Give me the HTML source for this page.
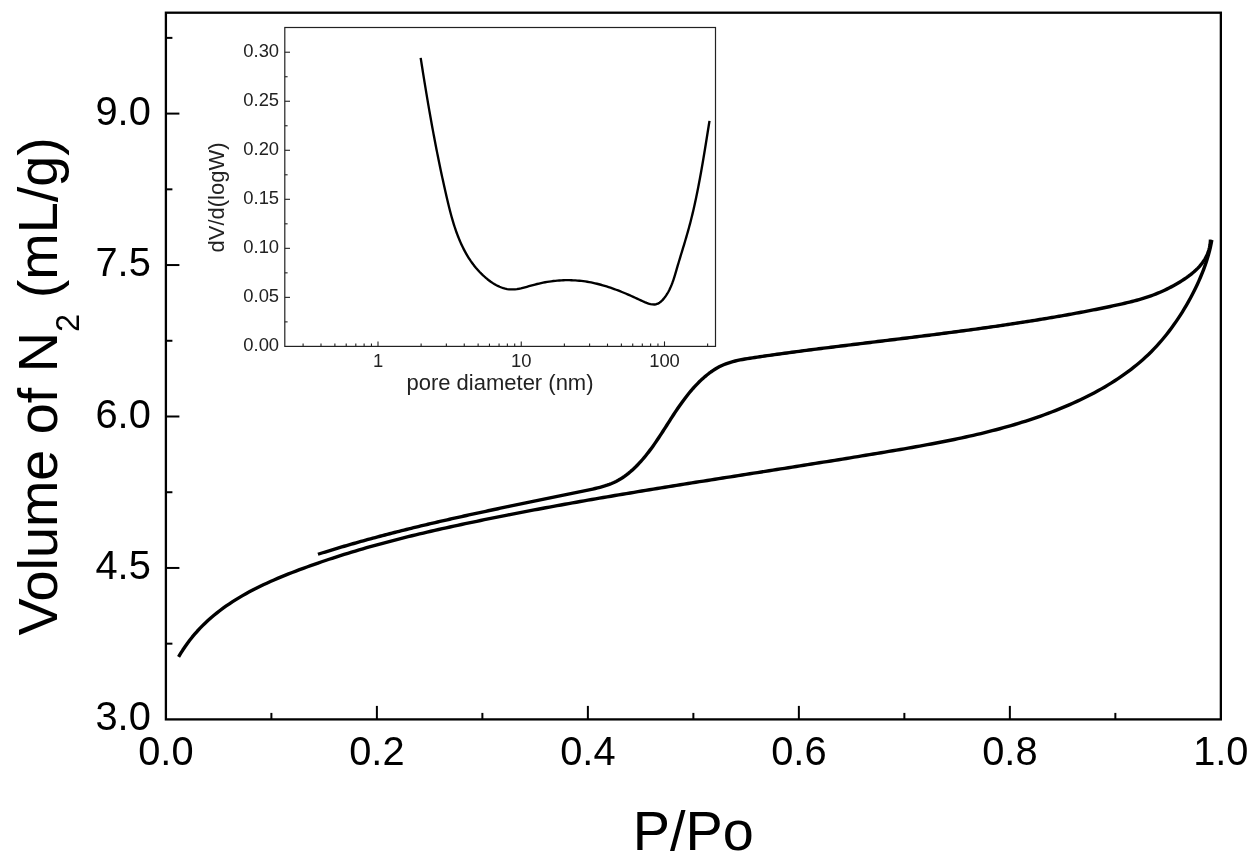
<!DOCTYPE html>
<html lang="en">
<head>
<meta charset="utf-8">
<title>N2 adsorption isotherm</title>
<style>
html,body{margin:0;padding:0;background:#fff;}
body{width:1260px;height:866px;overflow:hidden;}
svg{display:block;}
</style>
</head>
<body>
<svg width="1260" height="866" viewBox="0 0 1260 866">
<rect x="0" y="0" width="1260" height="866" fill="#fff"/>
<g stroke="#000" fill="none" stroke-linecap="butt">
<rect x="165.90" y="12.70" width="1054.95" height="706.70" stroke-width="2.3"/>
<line x1="271.39" y1="719.40" x2="271.39" y2="712.90" stroke-width="2"/>
<line x1="376.89" y1="719.40" x2="376.89" y2="705.90" stroke-width="2"/>
<line x1="482.38" y1="719.40" x2="482.38" y2="712.90" stroke-width="2"/>
<line x1="587.88" y1="719.40" x2="587.88" y2="705.90" stroke-width="2"/>
<line x1="693.37" y1="719.40" x2="693.37" y2="712.90" stroke-width="2"/>
<line x1="798.87" y1="719.40" x2="798.87" y2="705.90" stroke-width="2"/>
<line x1="904.36" y1="719.40" x2="904.36" y2="712.90" stroke-width="2"/>
<line x1="1009.86" y1="719.40" x2="1009.86" y2="705.90" stroke-width="2"/>
<line x1="1115.35" y1="719.40" x2="1115.35" y2="712.90" stroke-width="2"/>
<line x1="165.90" y1="643.67" x2="172.40" y2="643.67" stroke-width="2"/>
<line x1="165.90" y1="567.95" x2="179.40" y2="567.95" stroke-width="2"/>
<line x1="165.90" y1="492.23" x2="172.40" y2="492.23" stroke-width="2"/>
<line x1="165.90" y1="416.50" x2="179.40" y2="416.50" stroke-width="2"/>
<line x1="165.90" y1="340.77" x2="172.40" y2="340.77" stroke-width="2"/>
<line x1="165.90" y1="265.05" x2="179.40" y2="265.05" stroke-width="2"/>
<line x1="165.90" y1="189.33" x2="172.40" y2="189.33" stroke-width="2"/>
<line x1="165.90" y1="113.60" x2="179.40" y2="113.60" stroke-width="2"/>
<line x1="165.90" y1="37.88" x2="172.40" y2="37.88" stroke-width="2"/>
<path d="M178.57 656.98 L180.64 653.46 L182.79 650.03 L185.02 646.70 L187.32 643.44 L189.69 640.28 L192.13 637.19 L194.65 634.19 L197.22 631.26 L199.86 628.42 L202.57 625.65 L205.33 622.95 L208.16 620.32 L211.04 617.76 L213.97 615.27 L216.96 612.85 L220.00 610.49 L223.09 608.19 L226.22 605.96 L229.40 603.78 L232.63 601.66 L235.89 599.59 L239.20 597.58 L242.54 595.62 L245.92 593.70 L249.33 591.84 L252.77 590.02 L256.25 588.25 L259.75 586.51 L263.27 584.82 L266.83 583.17 L270.40 581.55 L273.99 579.97 L277.61 578.42 L281.24 576.90 L284.88 575.41 L288.53 573.94 L292.20 572.51 L295.88 571.09 L299.56 569.70 L303.25 568.33 L306.94 566.98 L310.64 565.64 L314.34 564.33 L318.05 563.03 L321.76 561.76 L325.47 560.50 L329.19 559.25 L332.92 558.03 L336.64 556.82 L340.37 555.63 L344.11 554.46 L347.85 553.30 L351.59 552.16 L355.34 551.03 L359.09 549.92 L362.85 548.82 L366.60 547.74 L370.37 546.67 L374.13 545.62 L377.90 544.58 L381.67 543.55 L385.44 542.54 L389.22 541.53 L393.00 540.55 L396.78 539.57 L400.57 538.60 L404.36 537.65 L408.15 536.71 L411.94 535.77 L415.73 534.85 L419.53 533.94 L423.33 533.04 L427.13 532.15 L430.94 531.27 L434.74 530.39 L438.55 529.53 L442.36 528.67 L446.17 527.82 L449.98 526.98 L453.80 526.15 L457.61 525.32 L461.43 524.50 L465.25 523.69 L469.07 522.88 L472.89 522.08 L476.71 521.29 L480.53 520.50 L484.35 519.71 L488.18 518.93 L492.00 518.16 L495.83 517.39 L499.66 516.62 L503.48 515.86 L507.31 515.11 L511.14 514.36 L514.97 513.61 L518.80 512.87 L522.64 512.13 L526.47 511.40 L530.30 510.67 L534.14 509.94 L537.97 509.22 L541.81 508.50 L545.64 507.79 L549.48 507.08 L553.32 506.38 L557.16 505.67 L561.00 504.98 L564.84 504.28 L568.68 503.59 L572.52 502.90 L576.36 502.22 L580.20 501.54 L584.05 500.86 L587.89 500.19 L591.74 499.52 L595.58 498.85 L599.43 498.18 L603.27 497.52 L607.12 496.86 L610.97 496.20 L614.82 495.55 L618.66 494.90 L622.51 494.25 L626.36 493.60 L630.21 492.96 L634.06 492.32 L637.91 491.68 L641.77 491.04 L645.62 490.40 L649.47 489.77 L653.32 489.14 L657.18 488.51 L661.03 487.88 L664.89 487.26 L668.74 486.63 L672.60 486.01 L676.45 485.39 L680.31 484.77 L684.16 484.15 L688.02 483.53 L691.88 482.92 L695.73 482.30 L699.59 481.69 L703.45 481.07 L707.31 480.46 L711.17 479.85 L715.03 479.24 L718.88 478.63 L722.74 478.02 L726.60 477.41 L730.46 476.81 L734.32 476.20 L738.18 475.59 L742.04 474.99 L745.91 474.38 L749.77 473.77 L753.63 473.17 L757.49 472.56 L761.35 471.95 L765.21 471.35 L769.07 470.74 L772.94 470.13 L776.80 469.53 L780.66 468.92 L784.52 468.31 L788.38 467.70 L792.25 467.09 L796.11 466.48 L799.97 465.87 L803.83 465.26 L807.70 464.65 L811.56 464.03 L815.42 463.42 L819.28 462.80 L823.15 462.18 L827.01 461.57 L830.87 460.95 L834.74 460.32 L838.60 459.70 L842.46 459.08 L846.32 458.45 L850.18 457.82 L854.05 457.19 L857.91 456.56 L861.77 455.93 L865.63 455.29 L869.49 454.66 L873.36 454.02 L877.22 453.37 L881.08 452.73 L884.94 452.08 L888.80 451.43 L892.66 450.78 L896.52 450.13 L900.38 449.47 L904.24 448.81 L908.10 448.14 L911.96 447.46 L915.81 446.78 L919.67 446.10 L923.52 445.40 L927.37 444.70 L931.21 443.98 L935.06 443.26 L938.90 442.53 L942.74 441.78 L946.57 441.02 L950.40 440.25 L954.23 439.47 L958.05 438.67 L961.87 437.86 L965.69 437.03 L969.50 436.18 L973.30 435.32 L977.10 434.44 L980.90 433.54 L984.69 432.62 L988.47 431.68 L992.25 430.72 L996.02 429.74 L999.78 428.74 L1003.54 427.72 L1007.29 426.67 L1011.03 425.60 L1014.77 424.50 L1018.49 423.38 L1022.21 422.23 L1025.93 421.05 L1029.63 419.85 L1033.32 418.62 L1037.01 417.36 L1040.69 416.07 L1044.35 414.74 L1048.01 413.39 L1051.66 412.01 L1055.30 410.59 L1058.92 409.14 L1062.54 407.66 L1066.15 406.14 L1069.74 404.59 L1073.33 403.00 L1076.90 401.37 L1080.45 399.70 L1083.99 398.00 L1087.51 396.26 L1091.01 394.47 L1094.49 392.65 L1097.94 390.78 L1101.37 388.87 L1104.77 386.91 L1108.14 384.91 L1111.48 382.87 L1114.79 380.77 L1118.06 378.63 L1121.30 376.44 L1124.50 374.21 L1127.65 371.92 L1130.77 369.58 L1133.84 367.19 L1136.87 364.74 L1139.85 362.24 L1142.78 359.69 L1145.66 357.08 L1148.48 354.41 L1151.26 351.69 L1153.97 348.91 L1156.64 346.08 L1159.25 343.19 L1161.80 340.25 L1164.30 337.26 L1166.75 334.22 L1169.15 331.14 L1171.50 328.02 L1173.79 324.85 L1176.03 321.64 L1178.23 318.39 L1180.37 315.11 L1182.46 311.79 L1184.50 308.44 L1186.50 305.06 L1188.45 301.65 L1190.34 298.21 L1192.19 294.75 L1193.98 291.25 L1195.72 287.74 L1197.40 284.19 L1199.02 280.63 L1200.57 277.04 L1202.06 273.43 L1203.48 269.80 L1204.83 266.14 L1206.10 262.47 L1207.28 258.77 L1208.38 255.05 L1209.39 251.30 L1210.31 247.54 L1211.12 243.76 L1211.84 239.95" stroke-width="3.4" stroke-linejoin="round"/>
<path d="M317.94 554.25 L320.32 553.50 L322.71 552.75 L325.09 552.01 L327.48 551.27 L329.87 550.54 L332.25 549.81 L334.64 549.09 L337.03 548.37 L339.41 547.66 L341.80 546.95 L344.19 546.25 L346.58 545.55 L348.97 544.86 L351.35 544.17 L353.74 543.49 L356.13 542.81 L358.52 542.13 L360.91 541.46 L363.30 540.80 L365.69 540.14 L368.09 539.48 L370.48 538.83 L372.87 538.18 L375.26 537.53 L377.65 536.89 L380.05 536.25 L382.44 535.62 L384.83 534.99 L387.23 534.37 L389.62 533.74 L392.02 533.13 L394.41 532.51 L396.81 531.90 L399.21 531.29 L401.60 530.69 L404.00 530.09 L406.40 529.49 L408.80 528.90 L411.19 528.31 L413.59 527.72 L415.99 527.13 L418.39 526.55 L420.79 525.97 L423.19 525.40 L425.60 524.83 L428.00 524.26 L430.40 523.69 L432.80 523.13 L435.21 522.56 L437.61 522.01 L440.01 521.45 L442.42 520.90 L444.82 520.34 L447.23 519.80 L449.64 519.25 L452.04 518.70 L454.45 518.16 L456.86 517.62 L459.27 517.08 L461.68 516.55 L464.09 516.01 L466.50 515.48 L468.91 514.95 L471.32 514.42 L473.73 513.90 L476.14 513.37 L478.56 512.85 L480.97 512.33 L483.38 511.81 L485.80 511.29 L488.22 510.77 L490.63 510.26 L493.05 509.74 L495.47 509.23 L497.88 508.72 L500.30 508.21 L502.72 507.70 L505.14 507.19 L507.56 506.68 L509.99 506.18 L512.41 505.67 L514.83 505.17 L517.25 504.66 L519.68 504.16 L522.10 503.66 L524.53 503.15 L526.96 502.65 L529.38 502.15 L531.81 501.65 L534.24 501.15 L536.67 500.65 L539.10 500.15 L541.53 499.65 L543.96 499.15 L546.39 498.65 L548.82 498.15 L551.26 497.65 L553.69 497.15 L556.13 496.65 L558.56 496.15 L561.00 495.65 L563.44 495.15 L565.88 494.65 L568.32 494.15 L570.76 493.65 L573.20 493.15 L575.64 492.64 L578.08 492.14 L580.52 491.64 L582.97 491.13 L585.41 490.63 L587.86 490.12 L590.30 489.60 L592.74 489.08 L595.17 488.52 L597.58 487.95 L599.98 487.33 L602.37 486.67 L604.73 485.97 L607.06 485.21 L609.37 484.38 L611.64 483.49 L613.88 482.52 L616.08 481.46 L618.24 480.32 L620.36 479.08 L622.44 477.77 L624.47 476.37 L626.46 474.90 L628.41 473.37 L630.31 471.78 L632.18 470.14 L634.00 468.45 L635.78 466.73 L637.53 464.96 L639.23 463.17 L640.90 461.35 L642.53 459.50 L644.13 457.63 L645.69 455.73 L647.23 453.80 L648.74 451.86 L650.23 449.89 L651.69 447.91 L653.13 445.91 L654.55 443.89 L655.96 441.85 L657.35 439.81 L658.72 437.75 L660.09 435.68 L661.44 433.61 L662.79 431.52 L664.13 429.43 L665.47 427.34 L666.80 425.24 L668.14 423.14 L669.48 421.05 L670.82 418.95 L672.17 416.86 L673.53 414.77 L674.89 412.69 L676.27 410.61 L677.67 408.55 L679.08 406.49 L680.51 404.45 L681.95 402.42 L683.42 400.41 L684.91 398.41 L686.43 396.43 L687.97 394.48 L689.53 392.55 L691.13 390.64 L692.75 388.76 L694.41 386.92 L696.09 385.10 L697.81 383.32 L699.56 381.57 L701.35 379.86 L703.18 378.19 L705.04 376.57 L706.94 374.99 L708.89 373.47 L710.87 372.00 L712.89 370.61 L714.95 369.28 L717.05 368.02 L719.19 366.85 L721.37 365.77 L723.60 364.78 L725.86 363.88 L728.16 363.06 L730.49 362.31 L732.85 361.64 L735.24 361.02 L737.65 360.46 L740.08 359.94 L742.52 359.47 L744.98 359.03 L747.45 358.62 L749.92 358.23 L752.39 357.85 L754.87 357.48 L757.34 357.11 L759.81 356.75 L762.27 356.39 L764.74 356.03 L767.20 355.68 L769.67 355.32 L772.13 354.98 L774.58 354.63 L777.04 354.29 L779.50 353.95 L781.95 353.61 L784.41 353.28 L786.86 352.95 L789.31 352.62 L791.76 352.29 L794.21 351.96 L796.66 351.64 L799.11 351.32 L801.56 351.00 L804.01 350.68 L806.46 350.36 L808.91 350.05 L811.36 349.73 L813.81 349.42 L816.26 349.11 L818.71 348.80 L821.16 348.49 L823.61 348.18 L826.06 347.88 L828.51 347.57 L830.96 347.26 L833.42 346.96 L835.87 346.65 L838.32 346.35 L840.78 346.05 L843.23 345.74 L845.68 345.44 L848.14 345.14 L850.59 344.84 L853.05 344.54 L855.50 344.24 L857.96 343.94 L860.42 343.64 L862.87 343.34 L865.33 343.04 L867.78 342.74 L870.24 342.44 L872.70 342.15 L875.16 341.85 L877.61 341.55 L880.07 341.25 L882.53 340.95 L884.99 340.65 L887.44 340.35 L889.90 340.05 L892.36 339.75 L894.82 339.45 L897.28 339.15 L899.74 338.85 L902.20 338.55 L904.65 338.25 L907.11 337.94 L909.57 337.64 L912.03 337.34 L914.49 337.03 L916.95 336.73 L919.41 336.42 L921.87 336.12 L924.33 335.81 L926.78 335.50 L929.24 335.19 L931.70 334.88 L934.16 334.57 L936.62 334.25 L939.08 333.94 L941.53 333.63 L943.99 333.31 L946.45 332.99 L948.91 332.67 L951.37 332.35 L953.82 332.03 L956.28 331.71 L958.74 331.38 L961.20 331.06 L963.65 330.73 L966.11 330.40 L968.56 330.07 L971.02 329.74 L973.48 329.40 L975.93 329.07 L978.39 328.73 L980.84 328.39 L983.30 328.05 L985.75 327.70 L988.20 327.36 L990.66 327.01 L993.11 326.66 L995.56 326.31 L998.02 325.95 L1000.47 325.60 L1002.92 325.24 L1005.37 324.88 L1007.82 324.51 L1010.27 324.15 L1012.72 323.78 L1015.17 323.41 L1017.62 323.03 L1020.07 322.66 L1022.52 322.28 L1024.97 321.90 L1027.41 321.51 L1029.86 321.13 L1032.31 320.74 L1034.75 320.35 L1037.20 319.95 L1039.64 319.55 L1042.09 319.15 L1044.53 318.75 L1046.97 318.34 L1049.41 317.93 L1051.85 317.51 L1054.30 317.10 L1056.74 316.68 L1059.17 316.25 L1061.61 315.83 L1064.05 315.40 L1066.49 314.96 L1068.93 314.53 L1071.36 314.08 L1073.80 313.64 L1076.23 313.19 L1078.67 312.74 L1081.10 312.29 L1083.53 311.83 L1085.96 311.36 L1088.39 310.90 L1090.82 310.42 L1093.25 309.95 L1095.68 309.47 L1098.11 308.98 L1100.53 308.49 L1102.96 307.99 L1105.38 307.49 L1107.81 306.98 L1110.23 306.47 L1112.65 305.95 L1115.07 305.42 L1117.50 304.89 L1119.91 304.35 L1122.33 303.80 L1124.75 303.24 L1127.16 302.67 L1129.57 302.09 L1131.98 301.49 L1134.38 300.88 L1136.77 300.24 L1139.15 299.58 L1141.53 298.89 L1143.89 298.18 L1146.25 297.43 L1148.59 296.66 L1150.92 295.84 L1153.24 295.00 L1155.54 294.11 L1157.83 293.19 L1160.10 292.23 L1162.36 291.23 L1164.61 290.20 L1166.84 289.13 L1169.06 288.02 L1171.26 286.88 L1173.44 285.70 L1175.61 284.48 L1177.76 283.22 L1179.90 281.93 L1182.02 280.60 L1184.12 279.23 L1186.20 277.82 L1188.24 276.37 L1190.25 274.87 L1192.20 273.32 L1194.09 271.72 L1195.92 270.06 L1197.68 268.35 L1199.36 266.57 L1200.95 264.72 L1202.44 262.81 L1203.83 260.83 L1205.10 258.77 L1206.26 256.64 L1207.29 254.43 L1208.19 252.14 L1208.94 249.78 L1209.56 247.35 L1210.02 244.84 L1210.33 242.26 L1210.48 239.62" stroke-width="3.4" stroke-linejoin="round"/>
</g>
<g font-family="'Liberation Sans', sans-serif" fill="#000">
<text x="165.90" y="764.8" font-size="39.8" text-anchor="middle">0.0</text>
<text x="376.89" y="764.8" font-size="39.8" text-anchor="middle">0.2</text>
<text x="587.88" y="764.8" font-size="39.8" text-anchor="middle">0.4</text>
<text x="798.87" y="764.8" font-size="39.8" text-anchor="middle">0.6</text>
<text x="1009.86" y="764.8" font-size="39.8" text-anchor="middle">0.8</text>
<text x="1220.85" y="764.8" font-size="39.8" text-anchor="middle">1.0</text>
<text x="150.8" y="730.40" font-size="39.8" text-anchor="end">3.0</text>
<text x="150.8" y="578.95" font-size="39.8" text-anchor="end">4.5</text>
<text x="150.8" y="427.50" font-size="39.8" text-anchor="end">6.0</text>
<text x="150.8" y="276.05" font-size="39.8" text-anchor="end">7.5</text>
<text x="150.8" y="124.60" font-size="39.8" text-anchor="end">9.0</text>
<text x="693.3" y="849.7" font-size="55.8" text-anchor="middle">P/Po</text>
<text transform="translate(57.2 635.6) rotate(-90)" font-size="55.75">Volume of N<tspan font-size="32.5" dy="21.6">2</tspan><tspan dy="-21.6"> (mL/g)</tspan></text>
</g>
<g stroke="#222" fill="none">
<rect x="284.80" y="27.50" width="430.70" height="318.90" stroke-width="1.2"/>
<line x1="284.80" y1="321.88" x2="287.60" y2="321.88" stroke-width="1.1"/>
<line x1="284.80" y1="297.37" x2="290.00" y2="297.37" stroke-width="1.1"/>
<line x1="284.80" y1="272.85" x2="287.60" y2="272.85" stroke-width="1.1"/>
<line x1="284.80" y1="248.34" x2="290.00" y2="248.34" stroke-width="1.1"/>
<line x1="284.80" y1="223.82" x2="287.60" y2="223.82" stroke-width="1.1"/>
<line x1="284.80" y1="199.31" x2="290.00" y2="199.31" stroke-width="1.1"/>
<line x1="284.80" y1="174.79" x2="287.60" y2="174.79" stroke-width="1.1"/>
<line x1="284.80" y1="150.28" x2="290.00" y2="150.28" stroke-width="1.1"/>
<line x1="284.80" y1="125.76" x2="287.60" y2="125.76" stroke-width="1.1"/>
<line x1="284.80" y1="101.25" x2="290.00" y2="101.25" stroke-width="1.1"/>
<line x1="284.80" y1="76.73" x2="287.60" y2="76.73" stroke-width="1.1"/>
<line x1="284.80" y1="52.22" x2="290.00" y2="52.22" stroke-width="1.1"/>
<line x1="303.10" y1="346.40" x2="303.10" y2="343.60" stroke-width="1.1"/>
<line x1="321.00" y1="346.40" x2="321.00" y2="343.60" stroke-width="1.1"/>
<line x1="334.88" y1="346.40" x2="334.88" y2="343.60" stroke-width="1.1"/>
<line x1="346.22" y1="346.40" x2="346.22" y2="343.60" stroke-width="1.1"/>
<line x1="355.81" y1="346.40" x2="355.81" y2="343.60" stroke-width="1.1"/>
<line x1="364.12" y1="346.40" x2="364.12" y2="343.60" stroke-width="1.1"/>
<line x1="371.45" y1="346.40" x2="371.45" y2="343.60" stroke-width="1.1"/>
<line x1="378.00" y1="346.40" x2="378.00" y2="341.40" stroke-width="1.1"/>
<line x1="421.12" y1="346.40" x2="421.12" y2="343.60" stroke-width="1.1"/>
<line x1="446.35" y1="346.40" x2="446.35" y2="343.60" stroke-width="1.1"/>
<line x1="464.25" y1="346.40" x2="464.25" y2="343.60" stroke-width="1.1"/>
<line x1="478.13" y1="346.40" x2="478.13" y2="343.60" stroke-width="1.1"/>
<line x1="489.47" y1="346.40" x2="489.47" y2="343.60" stroke-width="1.1"/>
<line x1="499.06" y1="346.40" x2="499.06" y2="343.60" stroke-width="1.1"/>
<line x1="507.37" y1="346.40" x2="507.37" y2="343.60" stroke-width="1.1"/>
<line x1="514.70" y1="346.40" x2="514.70" y2="343.60" stroke-width="1.1"/>
<line x1="521.25" y1="346.40" x2="521.25" y2="341.40" stroke-width="1.1"/>
<line x1="564.37" y1="346.40" x2="564.37" y2="343.60" stroke-width="1.1"/>
<line x1="589.60" y1="346.40" x2="589.60" y2="343.60" stroke-width="1.1"/>
<line x1="607.50" y1="346.40" x2="607.50" y2="343.60" stroke-width="1.1"/>
<line x1="621.38" y1="346.40" x2="621.38" y2="343.60" stroke-width="1.1"/>
<line x1="632.72" y1="346.40" x2="632.72" y2="343.60" stroke-width="1.1"/>
<line x1="642.31" y1="346.40" x2="642.31" y2="343.60" stroke-width="1.1"/>
<line x1="650.62" y1="346.40" x2="650.62" y2="343.60" stroke-width="1.1"/>
<line x1="657.95" y1="346.40" x2="657.95" y2="343.60" stroke-width="1.1"/>
<line x1="664.50" y1="346.40" x2="664.50" y2="341.40" stroke-width="1.1"/>
<line x1="707.62" y1="346.40" x2="707.62" y2="343.60" stroke-width="1.1"/>
<path d="M420.67 57.87 L420.99 59.91 L421.31 61.94 L421.63 63.97 L421.95 66.00 L422.27 68.02 L422.59 70.05 L422.91 72.07 L423.23 74.08 L423.56 76.10 L423.88 78.11 L424.21 80.13 L424.53 82.13 L424.86 84.14 L425.19 86.15 L425.52 88.15 L425.85 90.15 L426.18 92.15 L426.52 94.15 L426.85 96.15 L427.19 98.14 L427.53 100.13 L427.86 102.13 L428.20 104.12 L428.55 106.10 L428.89 108.09 L429.24 110.08 L429.58 112.06 L429.93 114.05 L430.28 116.03 L430.64 118.01 L430.99 120.00 L431.35 121.98 L431.70 123.96 L432.06 125.94 L432.43 127.91 L432.79 129.89 L433.16 131.87 L433.52 133.85 L433.89 135.82 L434.27 137.80 L434.64 139.78 L435.02 141.75 L435.40 143.73 L435.78 145.71 L436.17 147.68 L436.55 149.66 L436.94 151.63 L437.34 153.61 L437.73 155.59 L438.13 157.56 L438.53 159.54 L438.93 161.52 L439.34 163.50 L439.75 165.48 L440.16 167.46 L440.57 169.44 L440.99 171.42 L441.41 173.40 L441.84 175.39 L442.26 177.37 L442.69 179.36 L443.13 181.34 L443.56 183.33 L444.00 185.32 L444.45 187.31 L444.89 189.30 L445.34 191.30 L445.80 193.29 L446.25 195.29 L446.71 197.29 L447.18 199.29 L447.65 201.29 L448.13 203.29 L448.61 205.28 L449.10 207.28 L449.60 209.27 L450.12 211.26 L450.64 213.25 L451.17 215.23 L451.72 217.21 L452.28 219.18 L452.86 221.14 L453.45 223.10 L454.06 225.05 L454.68 226.99 L455.32 228.92 L455.98 230.84 L456.66 232.75 L457.37 234.65 L458.09 236.54 L458.84 238.41 L459.61 240.27 L460.40 242.12 L461.22 243.96 L462.07 245.77 L462.94 247.58 L463.84 249.36 L464.77 251.13 L465.73 252.88 L466.72 254.61 L467.74 256.32 L468.79 258.01 L469.88 259.69 L471.00 261.34 L472.16 262.96 L473.35 264.57 L474.59 266.15 L475.85 267.71 L477.16 269.24 L478.51 270.75 L479.89 272.23 L481.32 273.69 L482.79 275.11 L484.31 276.51 L485.86 277.88 L487.46 279.21 L489.10 280.49 L490.77 281.72 L492.48 282.88 L494.22 283.98 L496.00 285.00 L497.80 285.93 L499.62 286.77 L501.47 287.51 L503.35 288.14 L505.24 288.66 L507.15 289.05 L509.08 289.31 L511.02 289.44 L512.97 289.43 L514.94 289.30 L516.91 289.07 L518.90 288.74 L520.89 288.34 L522.89 287.87 L524.90 287.36 L526.91 286.81 L528.93 286.24 L530.95 285.66 L532.98 285.09 L535.00 284.53 L537.03 284.01 L539.06 283.53 L541.09 283.07 L543.12 282.65 L545.14 282.26 L547.17 281.91 L549.20 281.59 L551.23 281.30 L553.25 281.04 L555.28 280.82 L557.30 280.63 L559.32 280.47 L561.33 280.35 L563.35 280.26 L565.36 280.20 L567.37 280.18 L569.38 280.18 L571.38 280.23 L573.38 280.30 L575.37 280.41 L577.36 280.55 L579.35 280.72 L581.33 280.93 L583.30 281.17 L585.27 281.45 L587.23 281.75 L589.19 282.09 L591.15 282.46 L593.09 282.86 L595.04 283.29 L596.98 283.75 L598.91 284.24 L600.84 284.75 L602.77 285.29 L604.69 285.86 L606.61 286.45 L608.53 287.07 L610.44 287.70 L612.35 288.36 L614.26 289.05 L616.17 289.75 L618.08 290.47 L619.98 291.21 L621.88 291.97 L623.78 292.75 L625.68 293.54 L627.58 294.35 L629.47 295.17 L631.37 296.01 L633.27 296.86 L635.17 297.73 L637.06 298.60 L638.96 299.49 L640.86 300.38 L642.76 301.27 L644.67 302.12 L646.58 302.89 L648.51 303.55 L650.45 304.07 L652.40 304.40 L654.32 304.47 L656.17 304.22 L657.90 303.61 L659.53 302.68 L661.05 301.51 L662.47 300.14 L663.79 298.64 L665.03 297.06 L666.19 295.42 L667.26 293.73 L668.27 291.99 L669.21 290.21 L670.09 288.38 L670.91 286.53 L671.69 284.63 L672.42 282.72 L673.11 280.78 L673.77 278.82 L674.40 276.84 L675.01 274.86 L675.60 272.87 L676.19 270.88 L676.76 268.89 L677.34 266.91 L677.92 264.94 L678.51 262.97 L679.09 261.01 L679.68 259.06 L680.27 257.12 L680.86 255.18 L681.45 253.25 L682.03 251.32 L682.62 249.39 L683.21 247.47 L683.79 245.55 L684.37 243.63 L684.94 241.71 L685.51 239.79 L686.08 237.87 L686.64 235.95 L687.19 234.03 L687.74 232.11 L688.28 230.18 L688.82 228.25 L689.34 226.31 L689.86 224.37 L690.37 222.43 L690.87 220.48 L691.36 218.53 L691.85 216.57 L692.32 214.61 L692.79 212.64 L693.26 210.67 L693.71 208.70 L694.16 206.72 L694.61 204.74 L695.04 202.76 L695.47 200.78 L695.90 198.79 L696.32 196.80 L696.73 194.81 L697.14 192.81 L697.54 190.82 L697.94 188.82 L698.33 186.82 L698.71 184.82 L699.09 182.81 L699.47 180.81 L699.85 178.80 L700.21 176.80 L700.58 174.79 L700.94 172.78 L701.30 170.77 L701.65 168.77 L702.00 166.76 L702.35 164.75 L702.69 162.74 L703.03 160.73 L703.37 158.72 L703.70 156.71 L704.04 154.71 L704.37 152.70 L704.70 150.70 L705.03 148.69 L705.35 146.69 L705.68 144.69 L706.00 142.69 L706.32 140.70 L706.64 138.70 L706.96 136.71 L707.28 134.72 L707.60 132.73 L707.92 130.74 L708.24 128.76 L708.56 126.78 L708.87 124.80 L709.19 122.83 L709.51 120.86" stroke="#000" stroke-width="2.35" stroke-linejoin="round"/>
</g>
<g font-family="'Liberation Sans', sans-serif" fill="#222">
<text x="279.1" y="351.30" font-size="18.4" text-anchor="end">0.00</text>
<text x="279.1" y="302.27" font-size="18.4" text-anchor="end">0.05</text>
<text x="279.1" y="253.24" font-size="18.4" text-anchor="end">0.10</text>
<text x="279.1" y="204.21" font-size="18.4" text-anchor="end">0.15</text>
<text x="279.1" y="155.18" font-size="18.4" text-anchor="end">0.20</text>
<text x="279.1" y="106.15" font-size="18.4" text-anchor="end">0.25</text>
<text x="279.1" y="57.12" font-size="18.4" text-anchor="end">0.30</text>
<text x="378.00" y="367.4" font-size="18.4" text-anchor="middle">1</text>
<text x="521.25" y="367.4" font-size="18.4" text-anchor="middle">10</text>
<text x="664.50" y="367.4" font-size="18.4" text-anchor="middle">100</text>
<text x="500.0" y="390.1" font-size="22" text-anchor="middle">pore diameter (nm)</text>
<text transform="translate(224.3 197.5) rotate(-90)" font-size="22" text-anchor="middle">dV/d(logW)</text>
</g>
</svg>
</body>
</html>
